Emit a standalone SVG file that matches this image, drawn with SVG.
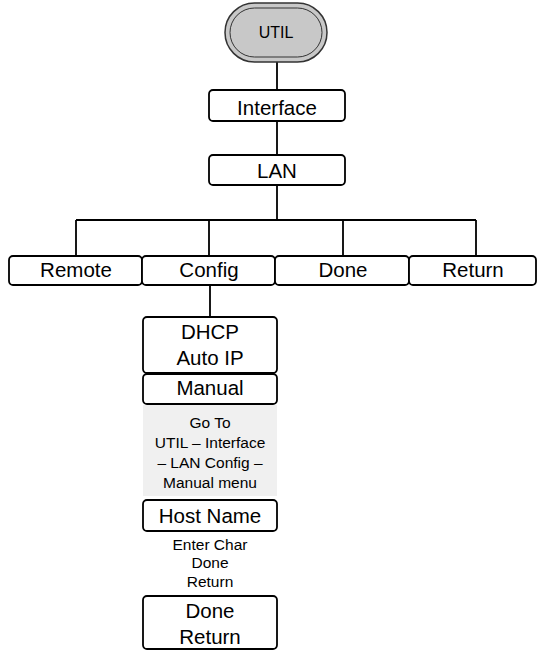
<svg xmlns="http://www.w3.org/2000/svg" width="537" height="651" viewBox="0 0 537 651">
<style>
.box{fill:#fff;stroke:#000;stroke-width:1.8}
.ln{stroke:#000;stroke-width:1.8;fill:none}
.t{font-family:"Liberation Sans",Arial,sans-serif;font-size:20.5px;text-anchor:middle;fill:#000}
.s{font-family:"Liberation Sans",Arial,sans-serif;font-size:15.5px;text-anchor:middle;fill:#000}
</style>
<rect width="537" height="651" fill="#fff"/>
<g id="connectors">
<path class="ln" d="M277 62V90M277 121V155M277 185V220M76 220H476M76 220V256M209 220V256M343 220V256M476 220V256M210 285V317"/>
</g>
<g id="util">
<rect x="225" y="3" width="102" height="59" rx="29.5" fill="#c8c8c8" stroke="#333" stroke-width="1.5"/>
<rect x="230" y="8" width="92" height="49" rx="24.5" fill="none" stroke="#333" stroke-width="1"/>
<text class="s" x="276" y="38" style="font-size:16px">UTIL</text>
</g>
<g id="interface"><rect class="box" x="209" y="90" width="136" height="31" rx="4"/><text class="t" x="277" y="115">Interface</text></g>
<g id="lan"><rect class="box" x="209" y="155" width="136" height="30" rx="4"/><text class="t" x="277" y="178">LAN</text></g>
<g id="remote"><rect class="box" x="9" y="256" width="133" height="29" rx="4"/><text class="t" x="76" y="277">Remote</text></g>
<g id="config"><rect class="box" x="142" y="256" width="133" height="29" rx="4"/><text class="t" x="209" y="277">Config</text></g>
<g id="done"><rect class="box" x="275" y="256" width="134" height="29" rx="4"/><text class="t" x="343" y="277">Done</text></g>
<g id="return"><rect class="box" x="409" y="256" width="127" height="29" rx="4"/><text class="t" x="473" y="277">Return</text></g>
<g id="dhcp"><rect class="box" x="143" y="317" width="134" height="56" rx="4"/><text class="t" x="210" y="339">DHCP</text><text class="t" x="210" y="365">Auto IP</text></g>
<g id="manual"><rect class="box" x="143" y="374" width="134" height="30" rx="4"/><text class="t" x="210" y="395">Manual</text></g>
<g id="note"><rect x="143" y="405" width="134" height="91" fill="#f0f0f0"/>
<text class="s" x="210" y="428">Go To</text><text class="s" x="210" y="448">UTIL – Interface</text><text class="s" x="210" y="468">– LAN Config –</text><text class="s" x="210" y="488">Manual menu</text></g>
<g id="hostname"><rect class="box" x="143" y="500" width="134" height="31" rx="4"/><text class="t" x="210" y="523">Host Name</text></g>
<g id="hostopts"><text class="s" x="210" y="550">Enter Char</text><text class="s" x="210" y="568">Done</text><text class="s" x="210" y="587">Return</text></g>
<g id="donereturn"><rect class="box" x="143" y="596" width="134" height="53" rx="4"/><text class="t" x="210" y="618">Done</text><text class="t" x="210" y="644">Return</text></g>
</svg>
